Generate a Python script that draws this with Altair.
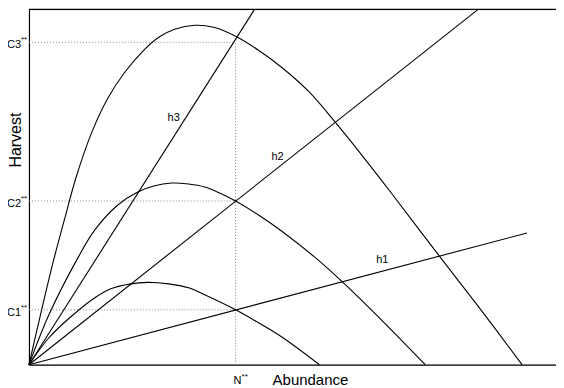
import altair as alt
import pandas as pd

W = 528
H = 356

# curves (abundance, harvest)
c1_x = [0, 20, 42, 66, 82, 102, 119, 140, 160, 176, 207, 230, 253, 291]
c1_y = [0, 27, 48, 67, 76, 81, 82.5, 81, 77, 70, 55, 42, 28, 0]
c2_x = [0, 20, 49, 66, 89, 109, 125, 143, 160, 176, 191, 207, 230, 253, 286, 314, 355, 397]
c2_y = [0, 50, 107, 135, 160, 173, 179, 182, 181, 178, 172, 164, 150, 134, 108, 83, 43, 0]
c3_x = [0, 12, 24, 36, 47, 63, 79, 96, 113, 130, 146, 166, 185, 207, 230, 253, 280, 306, 335, 363, 411, 452, 494]
c3_y = [0, 52, 102, 147, 187, 233, 267, 293, 313, 328, 336, 340, 338, 329, 315, 298, 274, 244, 208, 172, 109, 56, 0]

# harvest lines: start (origin) and end points
h_names = ["h1", "h2", "h3"]
h_end_x = [499, 450, 226]
h_end_y = [132, 356, 356]
h_label_x = [354, 249, 145]
h_label_y = [105, 208, 247]

# equilibrium marks
n_star = 207
c_names = ["C1", "C2", "C3"]
c_vals = [55, 164, 323]

curve_rows = []
for name, xs_, ys_ in [("c1", c1_x, c1_y), ("c2", c2_x, c2_y), ("c3", c3_x, c3_y)]:
    for xv, yv in zip(xs_, ys_):
        curve_rows.append({"curve": name, "x": xv, "y": yv})
curves = pd.DataFrame(curve_rows)

line_rows = []
for name, ex, ey in zip(h_names, h_end_x, h_end_y):
    line_rows.append({"line": name, "x": 0, "y": 0})
    line_rows.append({"line": name, "x": ex, "y": ey})
hlines = pd.DataFrame(line_rows)

hlabels = pd.DataFrame({"label": h_names, "x": h_label_x, "y": h_label_y})
cref = pd.DataFrame({"label": c_names, "y": c_vals, "x0": [0, 0, 0], "x1": [n_star] * 3})
clab = pd.DataFrame({"label": c_names, "y": c_vals})
nref = pd.DataFrame({"x": [n_star], "y0": [0], "y1": [c_vals[2]]})

FONT = "Liberation Sans"
xs = alt.Scale(domain=[0, W], nice=False, zero=False)
ys = alt.Scale(domain=[0, H], nice=False, zero=False)
xax = alt.Axis(title=None, labels=False, ticks=False, grid=False, domain=True,
               domainColor="black", domainWidth=1.2)
yax = alt.Axis(title=None, labels=False, ticks=False, grid=False, domain=True,
               domainColor="black", domainWidth=1.2)

curve_layer = alt.Chart(curves).mark_line(
    interpolate="catmull-rom", color="black", strokeWidth=1.1
).encode(
    x=alt.X("x:Q", scale=xs, axis=xax),
    y=alt.Y("y:Q", scale=ys, axis=yax),
    detail="curve:N",
)

line_layer = alt.Chart(hlines).mark_line(color="black", strokeWidth=1.1).encode(
    x=alt.X("x:Q", scale=xs), y=alt.Y("y:Q", scale=ys), detail="line:N"
)

top_rule = alt.Chart(pd.DataFrame({"y": [H]})).mark_rule(color="black", strokeWidth=1.2).encode(
    y=alt.Y("y:Q", scale=ys), x=alt.value(0), x2=alt.value(W)
)

c_rules = alt.Chart(cref).mark_rule(color="#888888", strokeWidth=1, strokeDash=[1, 2]).encode(
    x=alt.X("x0:Q", scale=xs), x2="x1:Q", y=alt.Y("y:Q", scale=ys)
)
n_rule = alt.Chart(nref).mark_rule(color="#888888", strokeWidth=1, strokeDash=[1, 2]).encode(
    x=alt.X("x:Q", scale=xs), y=alt.Y("y0:Q", scale=ys), y2="y1:Q"
)

h_text = alt.Chart(hlabels).mark_text(font=FONT, fontSize=11, color="black").encode(
    x=alt.X("x:Q", scale=xs), y=alt.Y("y:Q", scale=ys), text="label:N"
)

c_text = alt.Chart(clab).mark_text(font=FONT, fontSize=11, color="black", align="left",
                                   baseline="middle", dx=-22, dy=3).encode(
    x=alt.value(0), y=alt.Y("y:Q", scale=ys), text="label:N"
)
c_star = alt.Chart(clab).mark_text(font=FONT, fontSize=8, color="black", align="left",
                                   baseline="middle", dx=-8, dy=-2).encode(
    x=alt.value(0), y=alt.Y("y:Q", scale=ys), text=alt.value("**")
)

n_text = alt.Chart(pd.DataFrame({"x": [n_star], "t": ["N"]})).mark_text(
    font=FONT, fontSize=11, color="black", align="left", baseline="alphabetic", dx=-2
).encode(x=alt.X("x:Q", scale=xs), y=alt.value(H + 19), text="t:N")
n_star_t = alt.Chart(pd.DataFrame({"x": [n_star], "t": ["**"]})).mark_text(
    font=FONT, fontSize=8, color="black", align="left", baseline="middle", dx=6
).encode(x=alt.X("x:Q", scale=xs), y=alt.value(H + 12), text="t:N")

x_title = alt.Chart(pd.DataFrame({"x": [282], "t": ["Abundance"]})).mark_text(
    font=FONT, fontSize=15, color="black", align="center", baseline="alphabetic"
).encode(x=alt.X("x:Q", scale=xs), y=alt.value(H + 20), text="t:N")
y_title = alt.Chart(pd.DataFrame({"y": [225], "t": ["Harvest"]})).mark_text(
    font=FONT, fontSize=16, color="black", align="center", baseline="middle", angle=270
).encode(x=alt.value(-13), y=alt.Y("y:Q", scale=ys), text="t:N")

chart = alt.layer(
    c_rules, n_rule, top_rule, curve_layer, line_layer, h_text,
    c_text, c_star, n_text, n_star_t, x_title, y_title
).properties(
    width=W, height=H,
    autosize=alt.AutoSizeParams(type="none"),
    padding={"left": 21, "top": 1, "right": 0, "bottom": 22},
).configure_view(stroke=None).configure(background="white")

chart.save("out.html", embed_options={"renderer": "svg", "actions": False})
